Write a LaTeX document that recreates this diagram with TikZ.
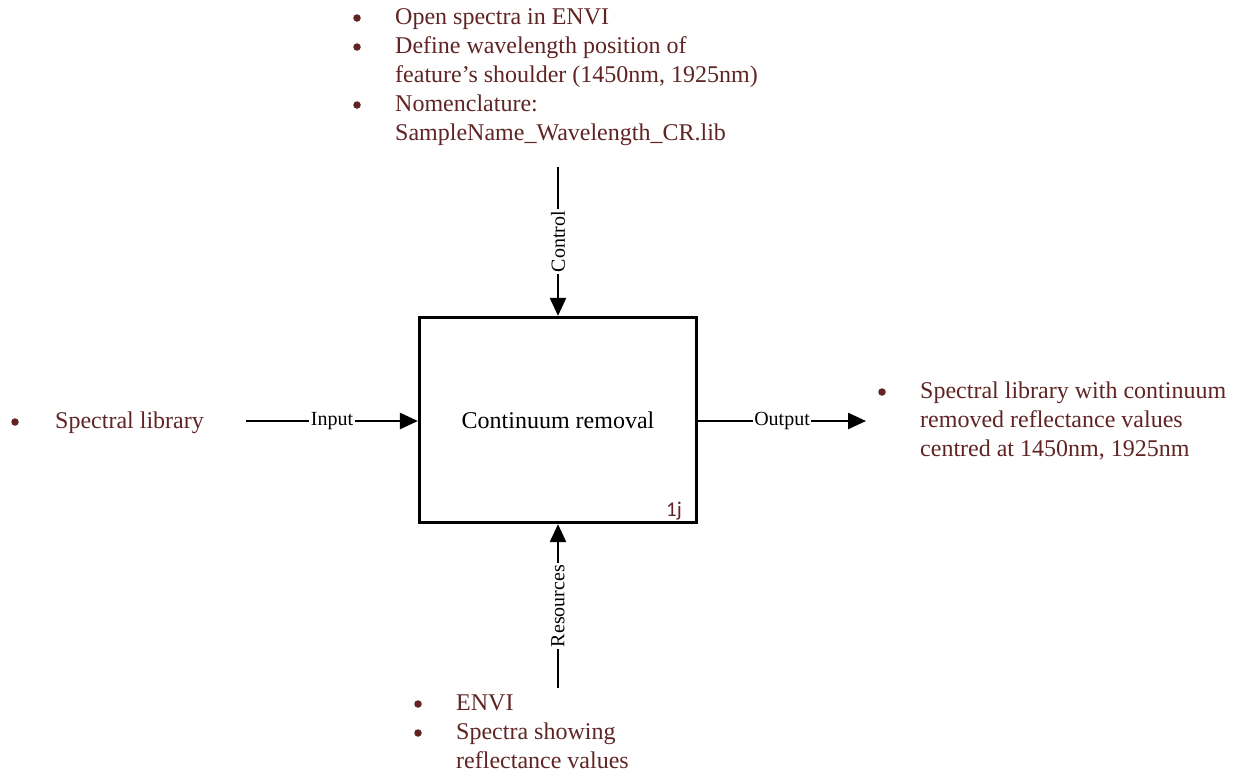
\documentclass[tikz,border=0pt]{standalone}
\usepackage{fontspec}
\setmainfont{Liberation Serif}
\newfontfamily\numfont{Carlito}
\usetikzlibrary{arrows.meta}
\definecolor{notebrown}{RGB}{96,36,36}
\begin{document}
\begin{tikzpicture}[x=1pt,y=-1pt,
  note/.style={text=notebrown, font=\fontsize{24}{29}\selectfont, inner sep=0pt, anchor=base west},
  dot/.style={circle, fill=notebrown, inner sep=0pt, minimum size=7.5pt},
  flow/.style={line width=2.5pt, -{Triangle[length=18pt,width=16pt]}},
  tag/.style={fill=white, inner sep=1.5pt, font=\fontsize{20}{21}\selectfont}]
\useasboundingbox (0,0) rectangle (1242,774);

% activity box
\node[draw, line width=3.2pt, minimum width=277pt, minimum height=205pt,
      font=\fontsize{24}{28}\selectfont] (box) at (558,420) {Continuum removal};
\node[text=notebrown, font=\numfont\fontsize{21}{22}\selectfont, inner sep=0pt, anchor=base east]
  (num) at (682,516) {1j};

% free ends of the four arrows
\coordinate (ctop) at (558,167);
\coordinate (rbot) at (558,688);
\coordinate (ileft) at (246,421);
\coordinate (oright) at (866,421);

\draw[flow] (ctop) -- node[tag, rotate=90] (ctrl) {Control} (ctop |- box.north);
\draw[flow] (rbot) -- node[tag, rotate=90] (res) {Resources} (rbot |- box.south);
\draw[flow] (ileft) -- node[tag] (inp) {Input} (ileft -| box.west);
\draw[flow] (oright -| box.east) -- node[tag] (outp) {Output} (oright);

% control notes
\node[dot] (cb1) at (357,18) {};
\node[note] (c1) at (395,24) {Open spectra in ENVI};
\node[dot] (cb2) at (357,47) {};
\node[note] (c2) at (395,53) {Define wavelength position of};
\node[note] (c3) at (395,82) {feature’s shoulder (1450nm, 1925nm)};
\node[dot] (cb3) at (357,105) {};
\node[note] (c4) at (395,111) {Nomenclature:};
\node[note] (c5) at (395,140) {SampleName\_Wavelength\_CR.lib};

% input note
\node[dot] (ib1) at (15,422) {};
\node[note] (i1) at (55,428) {Spectral library};

% output notes
\node[dot] (ob1) at (882,392) {};
\node[note] (o1) at (920,398) {Spectral library with continuum};
\node[note] (o2) at (920,427) {removed reflectance values};
\node[note] (o3) at (920,456) {centred at 1450nm, 1925nm};

% resource notes
\node[dot] (rb1) at (418,704) {};
\node[note] (r1) at (456,710) {ENVI};
\node[dot] (rb2) at (418,733) {};
\node[note] (r2) at (456,739) {Spectra showing};
\node[note] (r3) at (456,768) {reflectance values};
\end{tikzpicture}
\end{document}
